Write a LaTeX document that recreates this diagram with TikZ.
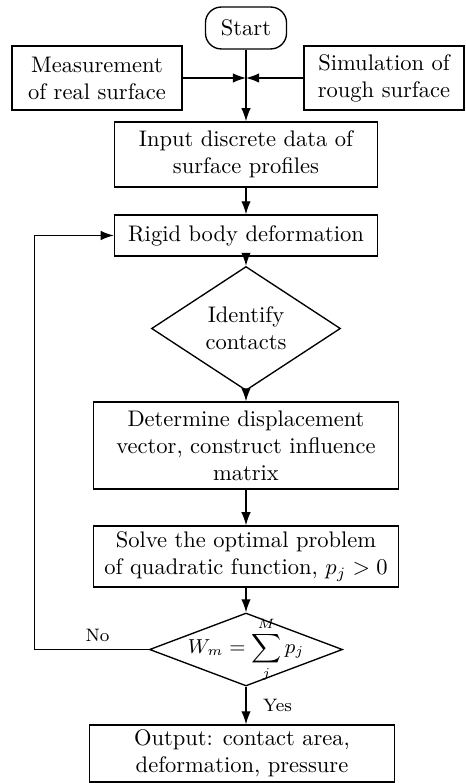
\documentclass[tikz,border=0pt]{standalone}
\usepackage{amsmath}
\usepackage{tikz}
\usetikzlibrary{shapes.geometric, arrows.meta, positioning, calc}

\begin{document}
\begin{tikzpicture}[x=0.444pt, y=-0.444pt,
    procbox/.style={draw, line width=0.6pt, align=center, inner sep=1pt},
    decision/.style={draw, diamond, line width=0.6pt, align=center, inner sep=0pt},
    startstop/.style={draw, line width=0.6pt, rounded corners=7pt, minimum width=36pt, minimum height=18.6pt},
    flowarrow/.style={line width=0.6pt, -{Latex[length=5.8pt, width=4.2pt]}}]
    \useasboundingbox (0,0) rectangle (465,783);

    \node[startstop] (start) at (246,28) {Start};
    \node[procbox, minimum width=75.5pt, minimum height=28.4pt] (meas) at (97,78) {Measurement\\of real surface};
    \node[procbox, minimum width=71pt, minimum height=28.4pt] (simu) at (384,78) {Simulation of\\rough surface};
    \node[procbox, minimum width=116.8pt, minimum height=28.9pt] (input) at (246,154.5) {Input discrete data of\\surface profiles};
    \node[procbox, minimum width=116.8pt, minimum height=18.2pt] (rigid) at (246,235.5) {Rigid body deformation};
    \node[decision, minimum width=83.9pt, minimum height=37.7pt] (ident) at (246,328.5) {Identify\\contacts};
    \node[procbox, minimum width=135.4pt, minimum height=38.6pt] (displ) at (246,445.5) {Determine displacement\\vector, construct influence\\matrix};
    \node[procbox, minimum width=135.4pt, minimum height=27.1pt] (solve) at (246,556.5) {Solve the optimal problem\\of quadratic function, $p_j>0$};
    % balance check: fixed diamond, formula laid over it
    \node[decision, minimum width=85.7pt, minimum height=32.4pt,
          label={[font=\small]center:$W_m=\displaystyle\sum\limits_{j}^{M} p_j$}] (check) at (246,649.5) {};
    \node[procbox, minimum width=135.4pt, minimum height=25.3pt] (output) at (242,753.5) {Output: contact area,\\deformation, pressure};

    \coordinate (join) at (start.south |- meas.east);

    \draw[flowarrow] (start) -- (input);
    \draw[flowarrow] (meas.east) -- (join);
    \draw[flowarrow] (simu.west) -- (join);
    \draw[flowarrow] (input) -- (rigid);
    \draw[flowarrow] (rigid) -- (ident);
    \draw[flowarrow] (ident) -- (displ);
    \draw[flowarrow] (displ) -- (solve);
    \draw[flowarrow] (solve) -- (check);
    \draw[flowarrow] (check.south) -- node[right=4pt, font=\footnotesize] {Yes} (check.south |- output.north);
    \draw[flowarrow] (check.west) -- node[above, pos=0.45, font=\footnotesize] {No} ++(-114,0) |- (rigid.west);
\end{tikzpicture}
\end{document}
